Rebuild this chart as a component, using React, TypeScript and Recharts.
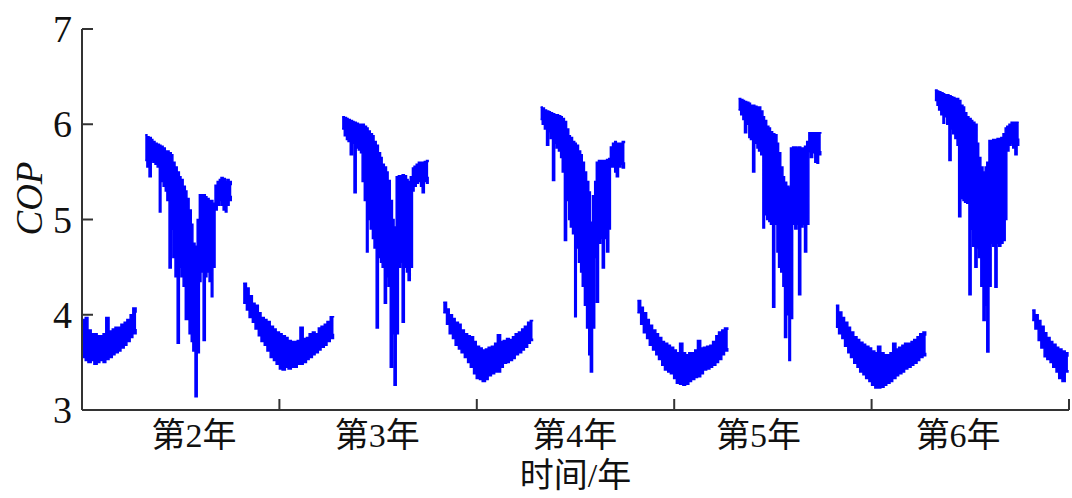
import { AreaChart, Area, XAxis, YAxis } from 'recharts';

// [day, lowest COP, highest COP], one entry per sample
type Sample = [number, number, number];

const winter1: Sample[] = [
  [0, 3.55, 3.95], [6, 3.52, 3.97], [11, 3.5, 3.84], [17, 3.52, 3.8], [22, 3.48, 3.8],
  [28, 3.5, 3.78], [33, 3.52, 3.78], [39, 3.5, 3.8], [44, 3.53, 3.97], [50, 3.55, 3.83],
  [56, 3.58, 3.85], [61, 3.6, 3.87], [67, 3.62, 3.87], [72, 3.65, 3.9], [78, 3.68, 3.92],
  [83, 3.72, 3.95], [89, 3.76, 4.0], [94, 3.8, 4.07], [100, 3.85, 4.02],
];

const summer1: Sample[] = [
  [117, 5.62, 5.89], [120, 5.55, 5.87], [124, 5.45, 5.86], [128, 5.62, 5.84], [131, 5.6, 5.82],
  [135, 5.58, 5.8], [139, 5.55, 5.79], [143, 5.08, 5.78], [146, 5.4, 5.77], [150, 5.35, 5.75],
  [154, 5.3, 5.72], [157, 5.2, 5.72], [161, 4.49, 5.7], [165, 4.9, 5.68], [168, 4.6, 5.6],
  [172, 4.4, 5.55], [176, 3.7, 5.5], [180, 4.5, 5.45], [183, 4.4, 5.42], [187, 4.3, 5.35],
  [191, 3.95, 5.3], [194, 3.95, 5.22], [198, 3.8, 5.1], [202, 3.72, 4.95], [205, 3.62, 4.75],
  [209, 3.14, 4.72], [213, 3.6, 5.0], [217, 4.35, 5.26], [220, 4.45, 5.26], [224, 3.73, 5.26],
  [228, 4.4, 5.24], [231, 4.45, 5.22], [235, 4.35, 5.2], [239, 4.19, 5.2], [242, 4.5, 5.17],
  [246, 5.1, 5.36], [250, 5.15, 5.4], [254, 5.2, 5.42], [257, 5.15, 5.44], [261, 5.1, 5.43],
  [265, 5.08, 5.4], [268, 5.15, 5.42], [272, 5.2, 5.4], [276, 5.25, 5.36],
];

const winter2: Sample[] = [
  [298, 4.12, 4.33], [304, 4.05, 4.28], [309, 3.97, 4.2], [315, 3.92, 4.12], [320, 3.85, 4.1],
  [326, 3.78, 4.02], [331, 3.72, 3.97], [337, 3.68, 3.95], [342, 3.62, 3.93], [348, 3.55, 3.88],
  [354, 3.52, 3.85], [359, 3.48, 3.82], [365, 3.43, 3.8], [370, 3.42, 3.78], [376, 3.45, 3.76],
  [381, 3.43, 3.73], [387, 3.45, 3.72], [392, 3.45, 3.72], [398, 3.48, 3.73], [403, 3.48, 3.87],
  [409, 3.5, 3.75], [415, 3.53, 3.76], [420, 3.55, 3.8], [426, 3.58, 3.82], [431, 3.6, 3.8],
  [437, 3.63, 3.86], [442, 3.66, 3.88], [448, 3.68, 3.9], [453, 3.72, 3.93], [459, 3.75, 3.98],
  [465, 3.8, 3.97],
];

const summer2: Sample[] = [
  [481, 5.95, 6.08], [485, 5.88, 6.07], [489, 5.84, 6.06], [492, 5.82, 6.05], [496, 5.68, 6.04],
  [500, 5.8, 6.03], [503, 5.28, 6.02], [507, 5.75, 6.01], [511, 5.73, 6.0], [515, 5.7, 6.0],
  [518, 5.4, 6.0], [522, 5.2, 5.98], [526, 4.66, 5.96], [529, 5.0, 5.93], [533, 4.9, 5.9],
  [537, 4.8, 5.88], [540, 4.7, 5.82], [544, 3.86, 5.78], [548, 4.6, 5.7], [552, 4.55, 5.65],
  [555, 4.5, 5.58], [559, 4.12, 5.55], [563, 4.4, 5.5], [566, 4.3, 5.41], [570, 3.45, 5.2],
  [574, 3.8, 5.0], [577, 3.26, 4.92], [581, 3.8, 5.45], [585, 4.5, 5.46], [589, 4.55, 5.46],
  [592, 3.92, 5.47], [596, 4.5, 5.46], [600, 4.45, 5.42], [603, 4.36, 5.4], [607, 4.5, 5.45],
  [611, 5.3, 5.54], [614, 5.35, 5.56], [618, 5.38, 5.58], [622, 5.4, 5.6], [626, 5.35, 5.6],
  [629, 5.28, 5.6], [633, 5.4, 5.61], [637, 5.38, 5.62], [640, 5.45, 5.6],
];

const winter3: Sample[] = [
  [668, 4.02, 4.13], [674, 3.9, 4.06], [679, 3.8, 4.0], [685, 3.75, 3.96], [690, 3.68, 3.92],
  [696, 3.64, 3.9], [701, 3.6, 3.84], [707, 3.55, 3.8], [713, 3.5, 3.78], [718, 3.45, 3.77],
  [724, 3.38, 3.72], [729, 3.33, 3.67], [735, 3.32, 3.65], [740, 3.3, 3.63], [746, 3.32, 3.64],
  [751, 3.36, 3.66], [757, 3.38, 3.67], [763, 3.4, 3.7], [768, 3.4, 3.79], [774, 3.45, 3.72],
  [779, 3.49, 3.73], [785, 3.5, 3.75], [790, 3.52, 3.74], [796, 3.54, 3.77], [801, 3.58, 3.8],
  [807, 3.6, 3.82], [813, 3.63, 3.85], [818, 3.66, 3.88], [824, 3.7, 3.92], [829, 3.73, 3.94],
  [833, 3.75, 3.93],
];

const summer3: Sample[] = [
  [848, 6.05, 6.18], [851, 6.0, 6.17], [855, 5.95, 6.15], [859, 5.78, 6.14], [863, 5.92, 6.13],
  [866, 5.85, 6.12], [870, 5.41, 6.11], [874, 5.8, 6.1], [877, 5.75, 6.1], [881, 5.72, 6.09],
  [885, 5.65, 6.08], [888, 5.5, 6.06], [892, 4.78, 6.03], [896, 5.2, 5.95], [900, 5.0, 5.88],
  [903, 4.92, 5.86], [907, 4.85, 5.82], [911, 3.98, 5.8], [914, 4.7, 5.78], [918, 4.55, 5.72],
  [922, 4.45, 5.68], [925, 4.3, 5.6], [929, 4.1, 5.5], [933, 3.86, 5.4], [937, 3.58, 5.29],
  [940, 3.4, 4.97], [944, 3.86, 5.25], [948, 4.6, 5.4], [951, 4.13, 5.6], [955, 4.75, 5.62],
  [959, 4.8, 5.62], [962, 4.49, 5.62], [966, 4.8, 5.62], [970, 4.66, 5.63], [974, 4.9, 5.64],
  [977, 5.55, 5.76], [981, 5.55, 5.8], [985, 5.5, 5.82], [988, 5.45, 5.8], [992, 5.55, 5.8],
  [996, 5.58, 5.8], [999, 5.54, 5.82], [1003, 5.6, 5.8],
];

const winter4: Sample[] = [
  [1027, 4.02, 4.15], [1033, 3.9, 4.08], [1038, 3.81, 4.02], [1044, 3.75, 3.95], [1049, 3.68, 3.89],
  [1055, 3.63, 3.84], [1061, 3.58, 3.8], [1066, 3.53, 3.76], [1072, 3.47, 3.72], [1077, 3.42, 3.7],
  [1083, 3.4, 3.68], [1088, 3.38, 3.66], [1094, 3.33, 3.63], [1099, 3.28, 3.6], [1105, 3.27, 3.7],
  [1111, 3.26, 3.6], [1116, 3.27, 3.58], [1122, 3.3, 3.6], [1127, 3.32, 3.6], [1133, 3.34, 3.63],
  [1138, 3.35, 3.73], [1144, 3.38, 3.65], [1149, 3.42, 3.66], [1155, 3.43, 3.67], [1161, 3.45, 3.68],
  [1166, 3.47, 3.72], [1172, 3.5, 3.78], [1177, 3.53, 3.82], [1183, 3.58, 3.84], [1188, 3.62, 3.86],
  [1194, 3.65, 3.84],
];

const summer4: Sample[] = [
  [1214, 6.15, 6.27], [1218, 6.1, 6.26], [1222, 6.05, 6.25], [1225, 5.91, 6.24], [1229, 6.0, 6.23],
  [1233, 5.86, 6.22], [1236, 5.84, 6.2], [1240, 5.5, 6.2], [1244, 5.8, 6.19], [1248, 5.75, 6.18],
  [1251, 5.72, 6.18], [1255, 5.68, 6.14], [1259, 4.91, 6.08], [1262, 5.05, 6.04], [1266, 5.0, 5.98],
  [1270, 4.98, 5.96], [1273, 4.95, 5.92], [1277, 4.08, 5.9], [1281, 4.95, 5.89], [1285, 4.66, 5.8],
  [1288, 4.5, 5.7], [1292, 4.45, 5.55], [1296, 4.3, 5.45], [1299, 3.76, 5.39], [1303, 4.0, 5.35],
  [1307, 3.52, 5.33], [1310, 3.96, 5.75], [1314, 4.95, 5.76], [1318, 4.9, 5.76], [1322, 4.95, 5.75],
  [1325, 4.21, 5.76], [1329, 4.92, 5.75], [1333, 4.95, 5.75], [1336, 4.66, 5.77], [1340, 4.95, 5.82],
  [1344, 5.71, 5.91], [1347, 5.65, 5.91], [1351, 5.7, 5.91], [1355, 5.6, 5.91], [1359, 5.59, 5.91],
  [1362, 5.68, 5.91], [1366, 5.72, 5.9],
];

const winter5: Sample[] = [
  [1394, 3.87, 4.1], [1399, 3.8, 4.03], [1405, 3.75, 3.97], [1410, 3.67, 3.92], [1416, 3.6, 3.87],
  [1421, 3.55, 3.82], [1427, 3.49, 3.77], [1433, 3.45, 3.74], [1438, 3.4, 3.71], [1444, 3.37, 3.69],
  [1449, 3.33, 3.67], [1455, 3.3, 3.65], [1460, 3.26, 3.62], [1466, 3.23, 3.6], [1471, 3.23, 3.67],
  [1477, 3.24, 3.6], [1483, 3.26, 3.58], [1488, 3.28, 3.58], [1494, 3.3, 3.6], [1499, 3.33, 3.7],
  [1505, 3.36, 3.64], [1510, 3.38, 3.66], [1516, 3.4, 3.68], [1521, 3.43, 3.7], [1527, 3.45, 3.7],
  [1533, 3.47, 3.72], [1538, 3.49, 3.74], [1544, 3.52, 3.77], [1549, 3.55, 3.8], [1555, 3.57, 3.82],
  [1560, 3.6, 3.78],
];

const summer5: Sample[] = [
  [1577, 6.25, 6.36], [1581, 6.2, 6.35], [1584, 6.15, 6.34], [1588, 6.1, 6.33], [1592, 6.01, 6.32],
  [1595, 6.08, 6.31], [1599, 6.0, 6.31], [1603, 5.62, 6.3], [1607, 5.95, 6.29], [1610, 5.9, 6.28],
  [1614, 5.85, 6.27], [1618, 5.78, 6.27], [1621, 5.03, 6.25], [1625, 5.22, 6.2], [1629, 5.2, 6.18],
  [1632, 5.18, 6.12], [1636, 5.17, 6.08], [1640, 4.21, 6.06], [1644, 4.9, 6.04], [1647, 4.72, 6.02],
  [1651, 4.5, 6.0], [1655, 4.7, 5.8], [1658, 4.6, 5.65], [1662, 4.3, 5.55], [1666, 3.94, 5.5],
  [1670, 4.1, 5.55], [1673, 3.61, 5.6], [1677, 4.3, 5.83], [1681, 4.75, 5.83], [1684, 4.72, 5.84],
  [1688, 4.29, 5.84], [1692, 4.75, 5.85], [1695, 4.72, 5.85], [1699, 4.75, 5.86], [1703, 4.78, 5.9],
  [1707, 5.0, 5.96], [1710, 5.72, 5.98], [1714, 5.78, 6.0], [1718, 5.8, 6.02], [1721, 5.75, 6.02],
  [1725, 5.68, 6.02], [1729, 5.78, 6.02], [1732, 5.85, 6.02],
];

const winter6: Sample[] = [
  [1757, 3.94, 4.05], [1762, 3.85, 4.0], [1768, 3.73, 3.94], [1773, 3.65, 3.88], [1779, 3.56, 3.81],
  [1784, 3.53, 3.76], [1790, 3.5, 3.72], [1795, 3.45, 3.69], [1801, 3.4, 3.66], [1806, 3.33, 3.64],
  [1812, 3.3, 3.62], [1818, 3.4, 3.6], [1823, 3.42, 3.56],
];

const seasons = [
  winter1, summer1, winter2, summer2, winter3, summer3,
  winter4, summer4, winter5, summer5, winter6,
];

const yearTicks = [365, 730, 1095, 1460, 1825];
const yearLabelDays = [207, 546, 911, 1251, 1620];
const yearLabels = ['第2年', '第3年', '第4年', '第5年', '第6年'];
const copTicks = [3, 4, 5, 6, 7];

// a null row between seasons breaks the band
const rows: { day: number; range: [number, number] | null }[] = [];
seasons.forEach((season, i) => {
  if (i > 0) {
    const prev = seasons[i - 1];
    rows.push({ day: (prev[prev.length - 1][0] + season[0][0]) / 2, range: null });
  }
  season.forEach(([day, lo, hi]) => rows.push({ day, range: [lo, hi] }));
});

const FONT = "'Liberation Serif', 'Times New Roman', 'Noto Sans CJK SC', serif";
const AXIS = '#333';

function XTick({ x, y, payload }: any) {
  const i = yearLabelDays.indexOf(payload.value);
  if (i >= 0) {
    return (
      <text x={x} y={y + 37} textAnchor="middle" fontSize={34} fontFamily={FONT} fill="#111">
        {yearLabels[i]}
      </text>
    );
  }
  return <line x1={x} y1={y} x2={x} y2={y - 11} stroke={AXIS} strokeWidth={2} />;
}

function YTick({ x, y, payload }: any) {
  return (
    <g>
      {payload.value > 3 && (
        <line x1={x} y1={y} x2={x + 11} y2={y} stroke={AXIS} strokeWidth={2} />
      )}
      <text x={x - 10} y={y + 13} textAnchor="end" fontSize={38} fontFamily={FONT} fill="#111">
        {payload.value}
      </text>
    </g>
  );
}

function CopTitle({ viewBox }: any) {
  const vb = viewBox ?? { x: 22, y: 29, width: 60, height: 381 };
  const cx = vb.x + 8;
  const cy = vb.y + vb.height * 0.445;
  return (
    <text
      x={cx}
      y={cy}
      transform={`rotate(-90 ${cx} ${cy})`}
      textAnchor="middle"
      dominantBaseline="central"
      fontSize={37}
      fontStyle="italic"
      fontFamily={FONT}
      fill="#111"
    >
      COP
    </text>
  );
}

function TimeTitle({ viewBox }: any) {
  const vb = viewBox ?? { x: 82, y: 410, width: 987, height: 40 };
  return (
    <text
      x={vb.x + vb.width / 2}
      y={vb.y + 77}
      textAnchor="middle"
      fontSize={34}
      fontFamily={FONT}
      fill="#111"
    >
      时间/年
    </text>
  );
}

export default function App() {
  return (
    <div style={{ position: 'absolute', left: 0, top: 0, background: '#fff' }}>
      <AreaChart
        width={1072}
        height={498}
        data={rows}
        margin={{ top: 29, right: 3, bottom: 48, left: 22 }}
      >
        <XAxis
          dataKey="day"
          type="number"
          domain={[0, 1825]}
          allowDataOverflow
          ticks={[...yearLabelDays, ...yearTicks].sort((a, b) => a - b)}
          interval={0}
          tickLine={false}
          tickSize={0}
          tickMargin={0}
          tick={(p: any) => <XTick {...p} />}
          axisLine={{ stroke: AXIS, strokeWidth: 2 }}
          height={40}
          label={{ content: (p: any) => <TimeTitle {...p} /> }}
        />
        <YAxis
          type="number"
          domain={[3, 7]}
          allowDataOverflow
          ticks={copTicks}
          interval={0}
          tickLine={false}
          tickSize={0}
          tickMargin={0}
          tick={(p: any) => <YTick {...p} />}
          axisLine={{ stroke: AXIS, strokeWidth: 2 }}
          width={60}
          label={{ content: (p: any) => <CopTitle {...p} /> }}
        />
        <Area
          dataKey="range"
          type="stepAfter"
          stroke="#0000ff"
          strokeWidth={1.5}
          fill="#0000ff"
          fillOpacity={1}
          dot={false}
          activeDot={false}
          connectNulls={false}
          isAnimationActive={false}
        />
      </AreaChart>
    </div>
  );
}
